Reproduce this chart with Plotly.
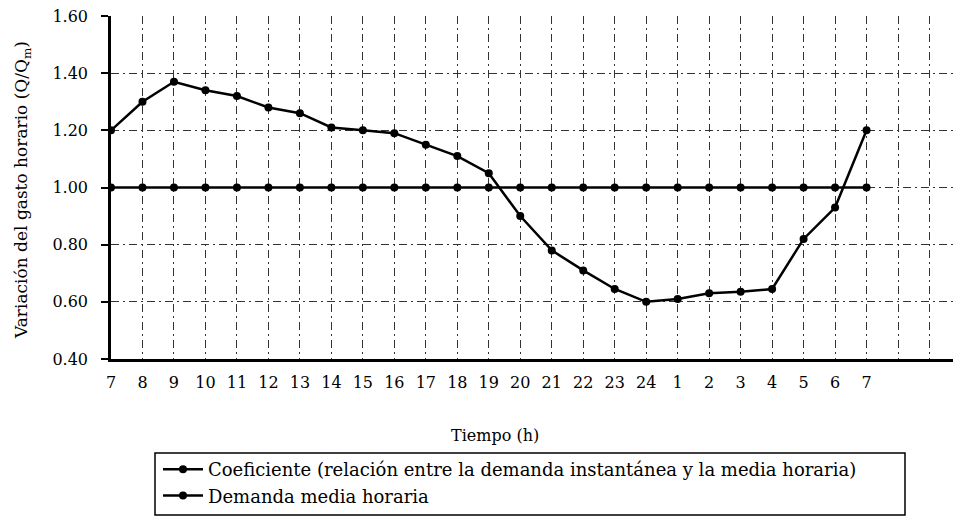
import plotly.graph_objects as go

hour_labels = ["7", "8", "9", "10", "11", "12", "13", "14", "15", "16", "17", "18", "19",
               "20", "21", "22", "23", "24", "1", "2", "3", "4", "5", "6", "7"]
coeficiente = [1.20, 1.30, 1.37, 1.34, 1.32, 1.28, 1.26, 1.21, 1.20, 1.19, 1.15, 1.11, 1.05,
               0.90, 0.78, 0.71, 0.645, 0.60, 0.61, 0.63, 0.635, 0.645, 0.82, 0.93, 1.20]
demanda_media = [1.00] * 25
y_ticks = [0.40, 0.60, 0.80, 1.00, 1.20, 1.40, 1.60]
y_tick_labels = ["0.40", "0.60", "0.80", "1.00", "1.20", "1.40", "1.60"]

x_idx = list(range(len(hour_labels)))
FONT = "DejaVu Serif, Liberation Serif, serif"

# page body has an 8px margin: screen coords = figure coords + 8
OFF = 8
W, H = 961 - OFF, 527 - OFF
L, R, T, B = 111 - OFF, 961 - OFF, 16 - OFF, 359 - OFF
PW, PH = R - L, B - T
def px(xs):
    return (xs - OFF - L) / PW
def py(ys):
    return (B - (ys - OFF)) / PH

fig = go.Figure()
fig.add_trace(go.Scatter(
    x=x_idx, y=coeficiente, mode="lines+markers",
    name="Coeficiente (relación entre la demanda instantánea y la media horaria)",
    legendgroup="a",
    line=dict(color="black", width=2.5),
    marker=dict(symbol="circle", size=8, color="black"),
))
fig.add_trace(go.Scatter(
    x=x_idx, y=demanda_media, mode="lines+markers",
    name="Demanda media horaria",
    legendgroup="b",
    line=dict(color="black", width=2.5),
    marker=dict(symbol="circle", size=8, color="black"),
))

GRID_DASH = "8px,4px,2px,4px"

fig.update_layout(
    width=W, height=H,
    margin=dict(l=L, r=W - R, t=T, b=H - B, autoexpand=False),
    paper_bgcolor="white", plot_bgcolor="white",
    font=dict(family=FONT, size=16, color="black"),
    showlegend=True,
    legend=dict(
        x=px(158), y=py(451), xanchor="left", yanchor="top",
        bgcolor="rgba(0,0,0,0)", borderwidth=0,
        font=dict(family=FONT, size=18, color="black"),
        itemwidth=40, tracegroupgap=0,
    ),
    xaxis=dict(
        range=[0, 27], tickmode="array", tickvals=x_idx, ticktext=hour_labels,
        showgrid=True, gridcolor="#333", gridwidth=1, griddash=GRID_DASH,
        minor=dict(tick0=0, dtick=1, showgrid=True, gridcolor="#333", gridwidth=1,
                   griddash=GRID_DASH, ticks=""),
        showline=True, linecolor="black", linewidth=2.5,
        ticks="", zeroline=False, automargin=False,
        ticklabelstandoff=7, ticklabeloverflow="allow",
        tickfont=dict(family=FONT, size=16),
    ),
    yaxis=dict(
        range=[0.4, 1.6], tickmode="array", tickvals=y_ticks, ticktext=y_tick_labels,
        showgrid=True, gridcolor="#333", gridwidth=1, griddash=GRID_DASH,
        showline=True, linecolor="black", linewidth=2.5,
        ticks="outside", ticklen=7, tickwidth=2, tickcolor="black",
        zeroline=False, automargin=False,
        ticklabelstandoff=10, ticklabeloverflow="allow",
        tickfont=dict(family=FONT, size=16),
    ),
    annotations=[
        dict(
            text="Variación del gasto horario (Q/Q<sub>m</sub>)",
            xref="paper", yref="paper", x=px(22), y=py(190),
            xanchor="center", yanchor="middle", textangle=-90,
            showarrow=False, font=dict(family=FONT, size=17, color="black"),
        ),
        dict(
            text="Tiempo (h)", xref="paper", yref="paper",
            x=px(495), y=py(435), xanchor="center", yanchor="middle",
            showarrow=False, font=dict(family=FONT, size=16, color="black"),
        ),
    ],
    shapes=[dict(
        type="rect", xref="paper", yref="paper",
        x0=px(155), x1=px(905), y0=py(515), y1=py(453),
        line=dict(color="black", width=1.5), fillcolor="rgba(0,0,0,0)",
    )],
)

fig.write_html("out.html")
